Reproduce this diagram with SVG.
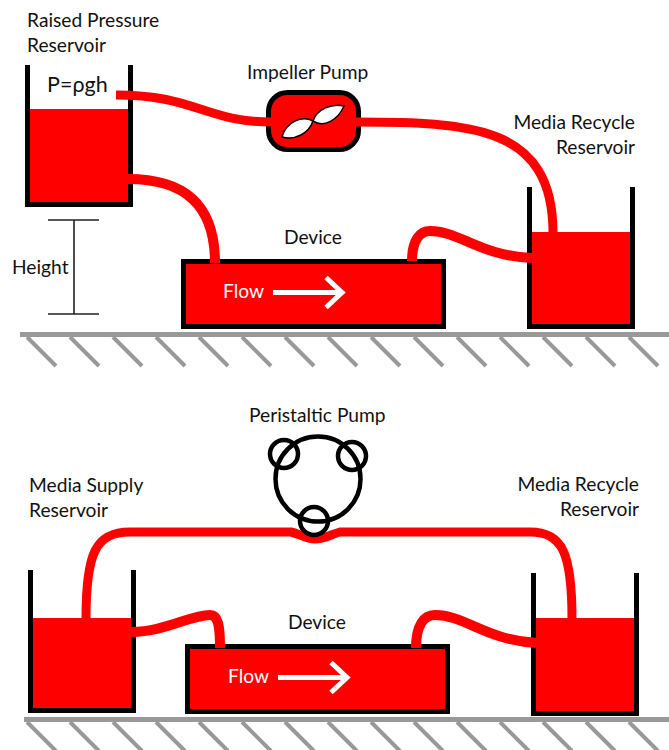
<svg xmlns="http://www.w3.org/2000/svg" width="669" height="750" viewBox="0 0 669 750">
<style>
text{font-family:"Lato","Open Sans","Liberation Sans",sans-serif;font-size:19.200px;fill:#111}
.end{text-anchor:end}
.mid{text-anchor:middle}
.big{font-size:21.500px}
.liq{fill:#f00}
.wall{fill:none;stroke:#000;stroke-width:5}
.dev{fill:#f00;stroke:#000;stroke-width:5}
.pipe{fill:none;stroke:#f00;stroke-linecap:butt}
.ground{stroke:#999;stroke-width:5;fill:none}
.hatch{stroke:#999;stroke-width:4;fill:none}
.arrow{stroke:#fff;stroke-width:5;fill:none}
.flow{fill:#fff}
.thin{stroke:#222;stroke-width:1.6;fill:none}
.ring{fill:none;stroke:#000;stroke-width:4.5}
.blade{fill:#fff;stroke:#000;stroke-width:1.5}
</style>
<defs>
<path id="hatches" class="hatch" d="M27 0L56 29M70 0L99 29M113 0L142 29M156 0L185 29M199 0L228 29M242 0L271 29M285 0L314 29M328 0L357 29M371 0L400 29M414 0L443 29M457 0L486 29M500 0L529 29M543 0L572 29M586 0L615 29M629 0L658 29"/>
<path id="flowArrow" class="arrow" d="M0 0H69M53 -15L69 0L53 15"/>
</defs>

<g id="ground-top"><path class="ground" d="M20 334.500H669"/><use href="#hatches" y="337"/></g>
<g id="ground-bottom"><path class="ground" d="M24 719.500H669"/><use href="#hatches" y="722"/></g>

<g id="raised-reservoir">
<rect class="liq" x="30" y="109" width="98" height="93"/>
<path class="wall" d="M27.500 65V204.500H130.500V65"/>
<text x="27" y="27">Raised Pressure</text>
<text x="27" y="52">Reservoir</text>
<text class="big" x="47" y="92">P=ρgh</text>
</g>
<g id="height-marker">
<path class="thin" d="M48 220H99M74 220V314M48 314H99"/>
<text x="12" y="274">Height</text>
</g>
<g id="impeller-pump">
<rect class="dev" x="268.500" y="92.500" width="90" height="57" rx="19"/>
<path class="blade" d="M282 137C286 122 302 115 313 121C309 133 295 141 282 137Z"/>
<path class="blade" d="M344 106C338 120 324 128 313 121C317 109 332 103 344 106Z"/>
<text x="247" y="79">Impeller Pump</text>
</g>
<g id="device-top">
<rect class="dev" x="183.500" y="261.500" width="260" height="65"/>
<text class="mid" x="313" y="244">Device</text>
<text class="flow" x="223" y="298">Flow</text>
<use href="#flowArrow" x="273" y="292.500"/>
</g>
<g id="recycle-top">
<rect class="liq" x="532" y="232" width="98" height="92"/>
<path class="wall" d="M529.500 187V326.500H632.500V187"/>
<text class="end" x="635" y="129">Media Recycle</text>
<text class="end" x="635" y="154">Reservoir</text>
</g>
<g id="supply-bottom">
<rect class="liq" x="33" y="618" width="98" height="90"/>
<path class="wall" d="M30.500 570V710.500H133.500V570"/>
<text x="29" y="492">Media Supply</text>
<text x="29" y="517">Reservoir</text>
</g>
<g id="device-bottom">
<rect class="dev" x="187.500" y="646.500" width="260" height="65"/>
<text class="mid" x="317" y="629">Device</text>
<text class="flow" x="228" y="683">Flow</text>
<use href="#flowArrow" x="278" y="677.500"/>
</g>
<g id="recycle-bottom">
<rect class="liq" x="536" y="618" width="98" height="93"/>
<path class="wall" d="M533.500 573V713.500H636.500V573"/>
<text class="end" x="639" y="491">Media Recycle</text>
<text class="end" x="639" y="516">Reservoir</text>
</g>

<g id="connectors">
<path class="pipe" stroke-width="9" d="M116 95C195 95 205 122 272 122"/>
<path class="pipe" stroke-width="10" d="M128 179C185 179 215 205 215 263"/>
<path class="pipe" stroke-width="9" d="M355 122C470 122 553 125 553 233"/>
<path class="pipe" stroke-width="10" d="M412 261C412 240 420 231 430 231C460 231 480 256 532 258"/>
<path class="pipe" stroke-width="9" d="M86 619C86 552 96 532 130 532H291C300 534 306 539 315 539C324 539 332 534 340 532H530C562 532 572 552 572 619"/>
<path class="pipe" stroke-width="10" d="M131 632C165 632 190 615 210 615C218 615 220 625 220 648"/>
<path class="pipe" stroke-width="10" d="M416 648C416 625 424 615 435 615C465 615 485 640 537 643"/>
</g>

<g id="peristaltic-pump">
<circle class="ring" cx="318" cy="479" r="42.500"/>
<circle class="ring" cx="284" cy="454" r="14"/>
<circle class="ring" cx="352" cy="456" r="14"/>
<circle class="ring" cx="314" cy="521" r="14"/>
<text x="249" y="422">Peristaltic Pump</text>
</g>
</svg>
